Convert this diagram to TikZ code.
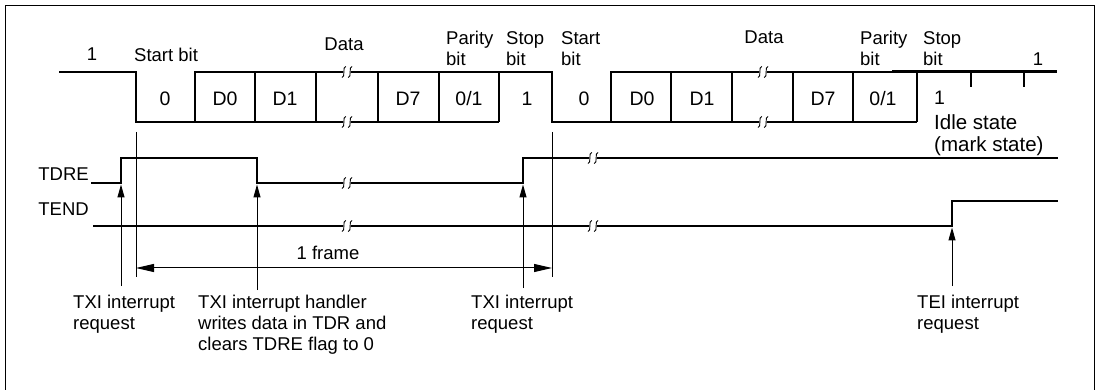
\documentclass[tikz,border=0pt]{standalone}
\usepackage{fontspec}
\setmainfont{Liberation Sans}
\usetikzlibrary{arrows.meta}
\newcommand\brkm[2]{%
  \fill[white] (#1-3.8,#2-1.6) rectangle (#1+3.8,#2+1.6);
  \draw[line width=0.9pt] (#1-1.2,#2-5.5) .. controls (#1-5,#2-5.5) and (#1-1.3,#2+5.5) .. (#1-5,#2+5.5);
  \draw[line width=0.9pt] (#1+5,#2-5.5) .. controls (#1+1.3,#2-5.5) and (#1+5,#2+5.5) .. (#1+1.2,#2+5.5);
}
\begin{document}
\begin{tikzpicture}[x=1pt,y=-1pt,
  sig/.style={line width=2.2pt, line cap=butt, line join=miter},
  thinl/.style={line width=1pt},
  lbl/.style={inner sep=0pt, anchor=base west, font=\fontsize{18.5}{21}\selectfont},
  lblc/.style={inner sep=0pt, anchor=base, font=\fontsize{18.5}{21}\selectfont},
  bitl/.style={inner sep=0pt, anchor=base, font=\fontsize{19.5}{21}\selectfont},
  mlbl/.style={inner sep=0pt, anchor=north west, align=left, font=\fontsize{18.5}{21}\selectfont},
  sigl/.style={inner sep=0pt, anchor=base east, font=\fontsize{18.5}{21}\selectfont},
  idle/.style={inner sep=0pt, anchor=base west, font=\fontsize{20.5}{23}\selectfont},
  upar/.style={thinl, -{Triangle[length=13pt,width=7pt]}},
  frar/.style={thinl, {Triangle[length=18pt,width=8pt]}-{Triangle[length=18pt,width=8pt]}},
]
\useasboundingbox (0,0) rectangle (1098,390);
\draw[thinl] (5.5,395) -- (5.5,5.5) -- (1094.5,5.5) -- (1094.5,395);

% ---- serial data line ----
\draw[sig] (59,72) -- (136,72) -- (136,122) -- (499,122);
\draw[sig] (195,122) -- (195,72) -- (552,72) -- (552,122) -- (917,122);
\foreach \x in {255,316,378,439,499} \draw[sig] (\x,72) -- (\x,122);
\draw[sig] (611,122) -- (611,72) -- (917,72) -- (917,122);
\foreach \x in {671,732,793,853} \draw[sig] (\x,72) -- (\x,122);
\draw[sig] (892,71.6) -- (1057,71.6);
\draw[sig] (971,72) -- (971,87);
\draw[sig] (1024,72) -- (1024,87);
\brkm{347}{72}\brkm{347}{122}\brkm{763}{72}\brkm{763}{122}

% ---- TDRE ----
\node[sigl] (ltdre) at (89,181) {TDRE};
\draw[sig] (91,183) -- (121,183) -- (121,158) -- (257,158) -- (257,183) -- (523,183) -- (523,158) -- (1058,158);
\brkm{347}{183}\brkm{593}{158}

% ---- TEND ----
\node[sigl] (ltend) at (89,216) {TEND};
\draw[sig] (93,226) -- (952,226) -- (952,201) -- (1058,201);
\brkm{347}{226}\brkm{593}{226}

% ---- frame markers ----
\coordinate (m1t) at (136,132); \coordinate (m1b) at (136,277);
\coordinate (m2t) at (552,132); \coordinate (m2b) at (552,277);
\draw[thinl] (m1t) -- (m1b);
\draw[thinl] (m2t) -- (m2b);
\coordinate (f1) at (136,268); \coordinate (f2) at (552,268);
\draw[frar] (f1) -- (f2);
\node[lblc] (lframe) at (328,259) {1 frame};

% ---- interrupt arrows ----
\coordinate (a1b) at (121,286); \coordinate (a1t) at (121,184.5);
\coordinate (a2b) at (257,290); \coordinate (a2t) at (257,184.5);
\coordinate (a3b) at (523,288); \coordinate (a3t) at (523,184.5);
\coordinate (a4b) at (952,286); \coordinate (a4t) at (952,227.5);
\draw[upar] (a1b) -- (a1t);
\draw[upar] (a2b) -- (a2t);
\draw[upar] (a3b) -- (a3t);
\draw[upar] (a4b) -- (a4t);

% ---- top labels ----
\node[lblc] (one1) at (92,61) {1};
\node[lbl] (start1) at (134,62) {Start bit};
\node[lblc] (data1) at (344,51) {Data};
\node[mlbl] (par1) at (446,31) {Parity\\bit};
\node[mlbl] (stop1) at (506,31) {Stop\\bit};
\node[mlbl] (start2) at (561,31) {Start\\bit};
\node[lblc] (data2) at (764,44) {Data};
\node[mlbl] (par2) at (860,31) {Parity\\bit};
\node[mlbl] (stop2) at (923,31) {Stop\\bit};
\node[lblc] (one2) at (1038,66) {1};

% ---- bit values ----
\node[bitl] (b0a) at (165,106) {0};
\node[bitl] (bd0a) at (225,106) {D0};
\node[bitl] (bd1a) at (285,106) {D1};
\node[bitl] (bd7a) at (408,106) {D7};
\node[bitl] (bpa) at (469,106) {0/1};
\node[bitl] (bsa) at (527,106) {1};
\node[bitl] (b0b) at (584,106) {0};
\node[bitl] (bd0b) at (642,106) {D0};
\node[bitl] (bd1b) at (702,106) {D1};
\node[bitl] (bd7b) at (823,106) {D7};
\node[bitl] (bpb) at (883,106) {0/1};
\node[inner sep=0pt, anchor=base west, font=\fontsize{19.5}{21}\selectfont] (bsb) at (934,105) {1};
\node[idle] (idle1) at (934,130) {Idle state};
\node[idle] (idle2) at (934,152) {(mark state)};

% ---- bottom labels ----
\node[mlbl] (txi1) at (73,295) {TXI interrupt\\request};
\node[mlbl] (txh) at (198,295) {TXI interrupt handler\\writes data in TDR and\\clears TDRE flag to 0};
\node[mlbl] (txi2) at (471,295) {TXI interrupt\\request};
\node[mlbl] (tei) at (917,295) {TEI interrupt\\request};
\end{tikzpicture}
\end{document}
